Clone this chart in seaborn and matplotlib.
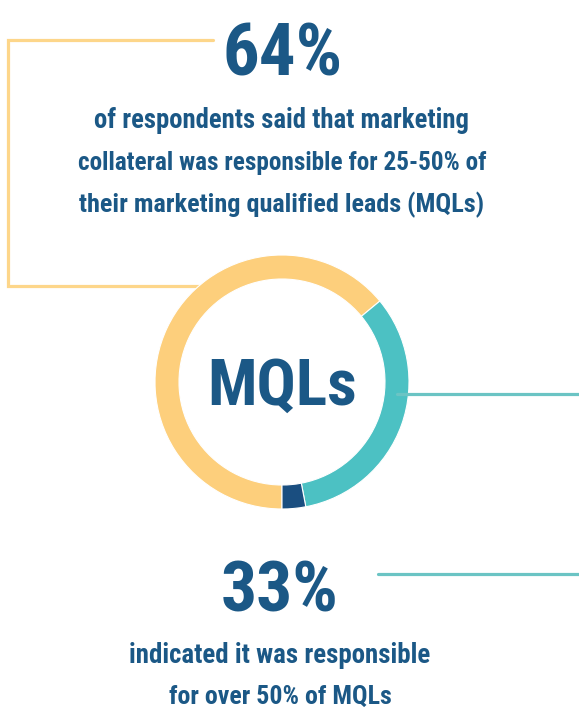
import matplotlib
matplotlib.use("Agg")
import matplotlib.pyplot as plt
import seaborn as sns

# ---- data ----
segments = ["25-50% of MQLs", "Over 50% of MQLs", "Other"]
shares = [64, 33, 3]
seg_colors = ["#fdcf7c", "#4cc1c3", "#1a4e80"]
headline_top = "64%"
para_top = ["of respondents said that marketing",
            "collateral was responsible for 25-50% of",
            "their marketing qualified leads (MQLs)"]
center_label = "MQLs"
headline_bottom = "33%"
para_bottom = ["indicated it was responsible", "for over 50% of MQLs"]

sns.set_theme(style="white")
plt.rcParams['font.family'] = ['Roboto Condensed', 'Open Sans Condensed',
                               'Liberation Sans Narrow', 'DejaVu Sans']
plt.rcParams['font.stretch'] = 'condensed'

W, H = 579, 708
fig = plt.figure(figsize=(W / 100, H / 100), dpi=100)
ax = fig.add_axes([0, 0, 1, 1])

TXT = "#1b5886"
YL = "#fdd68a"
TL = "#6bc4c4"

def Y(y):
    return H - y

# connector lines (behind donut)
ax.plot([213, 8, 8, 200], [Y(40), Y(40), Y(286), Y(286)], color=YL, lw=2.3,
        solid_joinstyle="miter", zorder=1)

ax.pie(shares, colors=seg_colors, startangle=-90, counterclock=False,
       center=(282, Y(382)), radius=127,
       wedgeprops=dict(width=24, edgecolor="white", linewidth=0.8))

ax.plot([397, W], [Y(394), Y(394)], color=TL, lw=2.3, zorder=5)
ax.plot([378, W], [Y(574), Y(574)], color=TL, lw=2.3, zorder=5)

ax.set_xlim(0, W)
ax.set_ylim(0, H)
ax.set_aspect("auto")
ax.axis("off")

bold = dict(fontweight="bold", color=TXT, ha="center", va="baseline")
renderer = fig.canvas.get_renderer()

def fit_text(x, yb, s, target_w, max_size, z=6):
    t = ax.text(x, Y(yb), s, fontsize=max_size, zorder=z, **bold)
    w = t.get_window_extent(renderer).width
    if w > target_w:
        t.set_fontsize(max_size * target_w / w)
    return t

fit_text(283, 75, headline_top, 120, 62)
for yb, line, tw in zip([128, 170, 212], para_top, [376, 410, 406]):
    fit_text(282, yb, line, tw, 24)
fit_text(282, 405, center_label, 150, 60)
fit_text(280, 612, headline_bottom, 118, 62)
for yb, line, tw in zip([663, 704], para_bottom, [302, 224]):
    fit_text(280, yb, line, tw, 24)

fig.savefig("out.png", dpi=100, facecolor="white")
